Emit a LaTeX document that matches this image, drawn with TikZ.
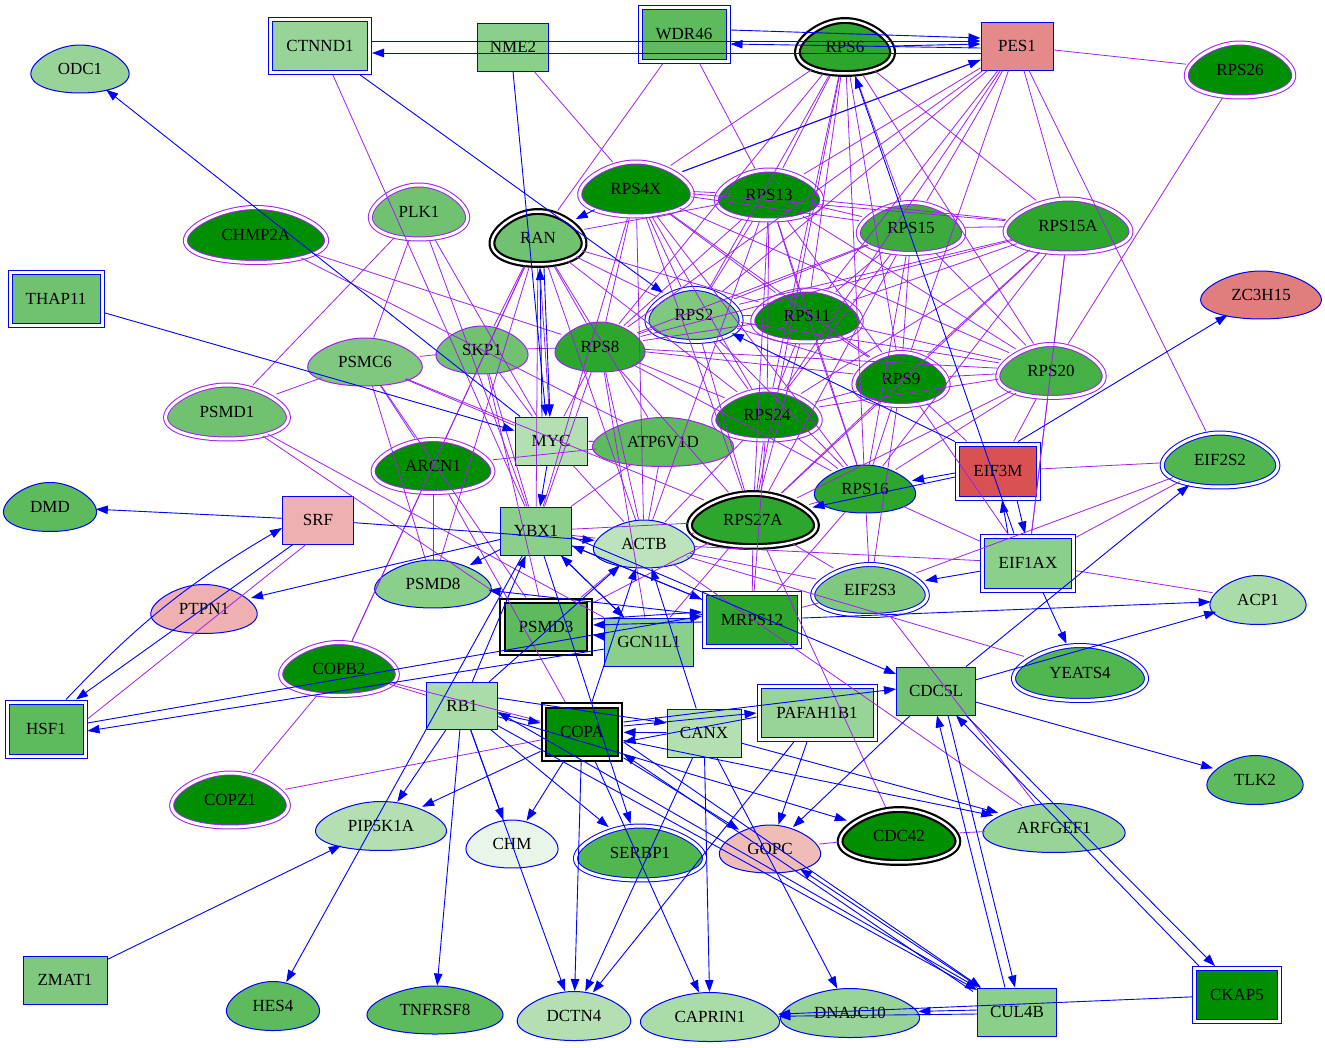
\documentclass[tikz,border=0pt]{standalone}
\usepackage{fontspec}
\setmainfont{Liberation Serif}
\usetikzlibrary{shapes.geometric,arrows.meta}
\definecolor{pur}{RGB}{160,32,240}
\definecolor{blu}{RGB}{0,0,255}
\definecolor{gA}{HTML}{008F00}
\definecolor{gB}{HTML}{2CA62C}
\definecolor{gC}{HTML}{3DAA3D}
\definecolor{gD}{HTML}{45B045}
\definecolor{gE}{HTML}{50B650}
\definecolor{gF}{HTML}{5DBB5D}
\definecolor{gG}{HTML}{70C270}
\definecolor{gH}{HTML}{80C880}
\definecolor{gI}{HTML}{8ACF8A}
\definecolor{gJ}{HTML}{98D498}
\definecolor{gK}{HTML}{A9DCA9}
\definecolor{gL}{HTML}{B3DFB3}
\definecolor{gM}{HTML}{BDE3BD}
\definecolor{gN}{HTML}{E8F5E8}
\definecolor{rA}{HTML}{E48A8A}
\definecolor{rB}{HTML}{E07E7E}
\definecolor{rC}{HTML}{D95252}
\definecolor{rD}{HTML}{EEB0B0}
\definecolor{rE}{HTML}{F0BCB8}
% egg-shaped node: name, x, y, w, h, style, fill, text
\newcommand\eggnode[8]{%
  \path[#6, fill=#7] plot[domain=0:360, samples=91] ({#2+0.5*#4*cos(\x)*(1+0.22*sin(\x))},{#3+0.5*#5*sin(\x)}) -- cycle;
  \node[#6, sz={#4}{#5}, draw=none, fill=none] (#1) at (#2,#3) {#8};}
\begin{document}
\begin{tikzpicture}[x=1pt,y=-1pt,
  nd/.style={inner sep=0pt, font=\fontsize{17}{17}\selectfont, text=black},
  sz/.style n args={2}{minimum width=#1pt, minimum height=#2pt},
  bx/.style={nd, rectangle, draw=blu, line width=1pt},
  dbx/.style={nd, rectangle, draw=blu, line width=1pt, double=white, double distance=3pt, outer sep=2.5pt},
  kbx/.style={nd, rectangle, draw=black, line width=2.2pt, double=white, double distance=2.5pt, outer sep=3.5pt},
  el/.style={nd, ellipse, draw=blu, line width=1pt},
  pel/.style={nd, ellipse, draw=pur, line width=1pt},
  dpel/.style={nd, ellipse, draw=pur, line width=1pt, double=white, double distance=3pt, outer sep=2.5pt},
  dbel/.style={nd, ellipse, draw=blu, line width=1pt, double=white, double distance=3pt, outer sep=2.5pt},
  kel/.style={nd, ellipse, draw=black, line width=2.2pt, double=white, double distance=2.5pt, outer sep=3.5pt},
  be/.style={draw=blu, line width=0.9pt, -{Triangle[length=12pt,width=8.5pt]}},
  pe/.style={draw=pur, line width=0.8pt}
]
\useasboundingbox[fill=white] (0,0) rectangle (1325,1047);
% boxes
\node[dbx, sz={99}{53}, fill=gJ] (ctnnd1) at (320,46) {CTNND1};
\node[bx, sz={71}{48}, fill=gI] (nme2) at (513,47) {NME2};
\node[dbx, sz={88}{54}, fill=gF] (wdr46) at (684,34) {WDR46};
\node[bx, sz={72}{48}, fill=rA] (pes1) at (1017,46) {PES1};
\node[dbx, sz={92}{53}, fill=gG] (thap11) at (56,299) {THAP11};
\node[bx, sz={72}{48}, fill=gL] (myc) at (551,441) {MYC};
\node[bx, sz={71}{48}, fill=rD] (srf) at (318,520) {SRF};
\node[bx, sz={71}{48}, fill=gI] (ybx1) at (536,531) {YBX1};
\node[kbx, sz={87}{52}, fill=gF] (psmd3) at (546,627) {PSMD3};
\node[bx, sz={89}{48}, fill=gI] (gcn1l1) at (649,642) {GCN1L1};
\node[dbx, sz={95}{53}, fill=gB] (mrps12) at (752,620) {MRPS12};
\node[dbx, sz={81}{54}, fill=rC] (eif3m) at (998,471) {EIF3M};
\node[dbx, sz={91}{54}, fill=gI] (eif1ax) at (1028,563) {EIF1AX};
\node[bx, sz={79}{48}, fill=gG] (cdc5l) at (936,691) {CDC5L};
\node[dbx, sz={78}{54}, fill=gF] (hsf1) at (46,729) {HSF1};
\node[bx, sz={71}{47}, fill=gK] (rb1) at (462,706) {RB1};
\node[kbx, sz={76}{53}, fill=gA] (copa) at (582,732) {COPA};
\node[bx, sz={74}{48}, fill=gL] (canx) at (704,733) {CANX};
\node[dbx, sz={116}{53}, fill=gJ] (pafah1b1) at (817,713) {PAFAH1B1};
\node[bx, sz={84}{48}, fill=gH] (zmat1) at (65,980) {ZMAT1};
\node[bx, sz={79}{48}, fill=gI] (cul4b) at (1017,1012) {CUL4B};
\node[dbx, sz={85}{53}, fill=gA] (ckap5) at (1237,995) {CKAP5};
% egg-shaped nodes
\eggnode{odc1}{80}{69}{96}{48}{el}{gJ}{ODC1}
\eggnode{rps6}{845}{47}{93}{53}{kel}{gB}{RPS6}
\eggnode{rps26}{1240}{70}{105}{54}{dpel}{gA}{RPS26}
\eggnode{rps4x}{636}{189}{110}{54}{dpel}{gA}{RPS4X}
\eggnode{rps13}{769}{195}{103}{50}{dpel}{gA}{RPS13}
\eggnode{plk1}{419}{212}{95}{54}{dpel}{gG}{PLK1}
\eggnode{chmp2a}{256}{235}{138}{55}{dpel}{gA}{CHMP2A}
\eggnode{ran}{538}{238}{90}{53}{kel}{gG}{RAN}
\eggnode{rps15}{911}{228}{103}{51}{dpel}{gC}{RPS15}
\eggnode{rps15a}{1068}{226}{123}{54}{dpel}{gB}{RPS15A}
\eggnode{zc3h15}{1261}{295}{118}{48}{el}{rB}{ZC3H15}
\eggnode{rps2}{694}{315}{92}{53}{dbel}{gH}{RPS2}
\eggnode{rps11}{807}{316}{106}{52}{dpel}{gA}{RPS11}
\eggnode{skp1}{482}{350}{90}{48}{pel}{gG}{SKP1}
\eggnode{rps8}{600}{347}{88}{50}{pel}{gB}{RPS8}
\eggnode{psmc6}{365}{362}{112}{48}{pel}{gH}{PSMC6}
\eggnode{rps9}{901}{379}{92}{53}{dpel}{gA}{RPS9}
\eggnode{rps20}{1051}{371}{104}{53}{dpel}{gD}{RPS20}
\eggnode{psmd1}{227}{412}{120}{54}{dpel}{gG}{PSMD1}
\eggnode{rps24}{767}{415}{104}{50}{dpel}{gA}{RPS24}
\eggnode{atp6v1d}{663}{442}{138}{49}{pel}{gF}{ATP6V1D}
\eggnode{arcn1}{433}{466}{117}{53}{dpel}{gA}{ARCN1}
\eggnode{eif2s2}{1220}{460}{113}{54}{dbel}{gE}{EIF2S2}
\eggnode{dmd}{50}{507}{91}{49}{el}{gF}{DMD}
\eggnode{rps16}{865}{489}{99}{48}{el}{gB}{RPS16}
\eggnode{rps27a}{753}{520}{124}{53}{kel}{gB}{RPS27A}
\eggnode{actb}{644}{544}{99}{48}{el}{gM}{ACTB}
\eggnode{psmd8}{433}{584}{114}{48}{el}{gI}{PSMD8}
\eggnode{ptpn1}{204}{609}{104}{49}{el}{rD}{PTPN1}
\eggnode{eif2s3}{870}{590}{112}{51}{dbel}{gH}{EIF2S3}
\eggnode{acp1}{1258}{600}{94}{49}{el}{gK}{ACP1}
\eggnode{copb2}{339}{669}{114}{53}{dpel}{gA}{COPB2}
\eggnode{yeats4}{1080}{673}{130}{55}{dbel}{gE}{YEATS4}
\eggnode{tlk2}{1255}{780}{94}{49}{el}{gF}{TLK2}
\eggnode{copz1}{230}{800}{114}{54}{dpel}{gA}{COPZ1}
\eggnode{pip5k1a}{381}{826}{128}{49}{el}{gL}{PIP5K1A}
\eggnode{chm}{512}{844}{90}{48}{el}{gN}{CHM}
\eggnode{serbp1}{640}{853}{126}{54}{dbel}{gE}{SERBP1}
\eggnode{gopc}{770}{849}{99}{48}{el}{rE}{GOPC}
\eggnode{cdc42}{899}{836}{115}{53}{kel}{gA}{CDC42}
\eggnode{arfgef1}{1054}{828}{139}{49}{el}{gJ}{ARFGEF1}
\eggnode{hes4}{273}{1006}{91}{49}{el}{gF}{HES4}
\eggnode{tnfrsf8}{435}{1010}{133}{48}{el}{gF}{TNFRSF8}
\eggnode{dctn4}{574}{1016}{111}{49}{el}{gL}{DCTN4}
\eggnode{caprin1}{710}{1017}{136}{49}{el}{gK}{CAPRIN1}
\eggnode{dnajc10}{850}{1013}{136}{49}{el}{gJ}{DNAJC10}
% purple edges
\foreach \a/\b in {pes1/rps26,pes1/rps4x,pes1/rps13,pes1/rps15,pes1/rps15a,pes1/rps11,pes1/rps2,pes1/rps8,pes1/rps24,pes1/rps9,pes1/eif2s2,
 rps6/rps4x,rps6/rps13,rps6/rps15,rps6/rps2,rps6/rps11,rps6/rps8,rps6/rps24,rps6/rps27a,rps6/rps16,rps6/rps9,rps6/rps20,rps6/rps15a,
 wdr46/ran,wdr46/rps13,nme2/rps4x,ctnnd1/ybx1,rps26/rps20,
 rps4x/rps13,rps4x/rps15,rps4x/rps15a,rps4x/rps8,rps4x/rps2,rps4x/rps11,rps4x/rps24,rps4x/rps16,rps4x/rps27a,rps4x/actb,rps4x/ybx1,rps4x/rps9,rps4x/rps20,
 rps13/rps15,rps13/rps15a,rps13/rps2,rps13/rps11,rps13/rps8,rps13/rps24,rps13/rps27a,rps13/rps16,rps13/rps9,rps13/rps20,rps13/ran,rps13/actb,
 rps15/rps15a,rps15/rps2,rps15/rps11,rps15/rps8,rps15/rps24,rps15/rps27a,rps15/rps16,rps15/rps20,rps15/rps9,
 rps15a/rps2,rps15a/rps11,rps15a/rps8,rps15a/rps24,rps15a/rps27a,rps15a/rps16,rps15a/rps9,rps15a/eif1ax,rps15a/rps20,
 rps2/rps11,rps2/rps8,rps2/ran,rps2/rps24,rps2/rps27a,rps2/rps16,rps2/rps9,rps2/rps20,
 rps11/rps8,rps11/rps24,rps11/rps27a,rps11/rps16,rps11/rps9,rps11/rps20,rps11/ran,
 rps8/ran,rps8/rps24,rps8/rps27a,rps8/rps16,rps8/rps9,rps8/rps20,rps8/actb,rps8/myc,rps8/skp1,rps8/ybx1,rps8/gcn1l1,
 rps9/rps24,rps9/rps27a,rps9/rps20,rps9/rps16,rps9/eif3m,
 rps20/rps24,rps20/rps27a,rps20/rps16,rps20/eif1ax,rps20/eif3m,
 rps24/rps27a,rps24/rps16,rps24/actb,rps24/mrps12,rps16/rps27a,
 rps27a/actb,rps27a/mrps12,rps27a/ybx1,rps27a/cdc42,rps27a/eif2s3,rps27a/psmd3,rps27a/gcn1l1,
 ran/skp1,ran/myc,ran/ybx1,ran/actb,ran/arcn1,ran/copb2,ran/rps24,ran/atp6v1d,ran/psmd8,
 actb/myc,actb/ybx1,actb/atp6v1d,actb/yeats4,actb/eif1ax,actb/eif2s3,actb/arfgef1,actb/psmd3,
 atp6v1d/myc,atp6v1d/ybx1,atp6v1d/arcn1,atp6v1d/chmp2a,
 myc/skp1,myc/psmc6,myc/plk1,plk1/psmd1,plk1/psmc6,plk1/ybx1,
 psmc6/psmd1,psmc6/skp1,psmc6/arcn1,psmc6/psmd8,psmc6/psmd3,psmc6/rps27a,
 psmd1/psmd3,psmd1/gcn1l1,skp1/ybx1,skp1/psmd3,
 arcn1/copb2,arcn1/copa,arcn1/psmd8,copb2/copz1,copb2/copa,copb2/rb1,copz1/copa,
 chmp2a/rps8,eif2s2/eif3m,eif2s2/eif2s3,eif2s2/eif1ax,eif1ax/acp1,eif1ax/rps16,eif1ax/rps9,
 eif2s3/rps16,eif2s3/mrps12,eif2s3/rps9,cdc42/gopc,cdc42/arfgef1,arfgef1/eif2s3,mrps12/rps16}
 \draw[pe] (\a) -- (\b);
\draw[pe] ([xshift=-12]srf.south) -- ([yshift=10]hsf1.east);
% blue edges
\draw[be] ([yshift=5]ctnnd1.east) -- ([yshift=5]pes1.west);
\draw[be] ([yshift=-7]pes1.west) -- ([yshift=-7]ctnnd1.east);
\draw[be] ([yshift=4]wdr46.east) -- ([yshift=8]pes1.west);
\draw[be] ([yshift=-2]pes1.west) -- ([yshift=-10]wdr46.east);
\draw[be] (rps6) -- ([yshift=2]pes1.west);
\draw[be] (rps4x) -- ([yshift=-14]pes1.west);
\draw[be] (nme2.south) -- ([xshift=-5]myc.north);
\draw[be] ([xshift=-9]myc.north) -- ([xshift=2]ran.south);
\draw[be] ([xshift=6]ran.south) -- ([xshift=-1]myc.north);
\draw[be] (ctnnd1) -- (rps2);
\draw[be] (rps4x) -- (ran);
\draw[be] ([xshift=-14]eif1ax.north) -- (rps6);
\draw[be] ([xshift=20]eif3m.north) -- (zc3h15);
\draw[be] ([xshift=-20]eif1ax.north) -- ([xshift=4]eif3m.south);
\draw[be] ([xshift=19]eif3m.south) -- ([xshift=-3]eif1ax.north);
\draw[be] ([yshift=-2]eif3m.west) -- (rps16);
\draw[be] ([yshift=-6]eif3m.west) -- (rps27a);
\draw[be] (eif3m.north west) -- (rps2);
\draw[be] (eif1ax) -- (eif2s3);
\draw[be] ([xshift=15]eif1ax.south) -- (yeats4);
\draw[be] (cdc5l) -- (eif2s2);
\draw[be] (cdc5l) -- (acp1);
\draw[be] (mrps12) -- (acp1);
\draw[be] (cdc5l) -- (tlk2);
\draw[be] ([xshift=-12]cul4b.north) -- ([xshift=1]cdc5l.south);
\draw[be] ([xshift=12]cdc5l.south) -- ([xshift=-2]cul4b.north);
\draw[be] ([xshift=-38]ckap5.north) -- ([xshift=20]cdc5l.south);
\draw[be] ([xshift=30]cdc5l.south) -- ([xshift=-22]ckap5.north);
\draw[be] (cdc5l) -- (gopc);
\draw[be] (pafah1b1) -- (gopc);
\draw[be] (pafah1b1) -- (dctn4);
\draw[be] ([yshift=6]copa.east) -- (pafah1b1.west);
\draw[be] ([yshift=10]copa.east) -- ([yshift=2]cdc5l.west);
\draw[be] (ybx1) -- (mrps12);
\draw[be] ([yshift=-6]ybx1.east) -- (cdc5l);
\draw[be] (srf) -- (dmd);
\draw[be] (ybx1) -- (ptpn1);
\draw[be] (srf) -- (actb);
\draw[be] ([xshift=20]hsf1.north) to[bend left=8] ([yshift=-8]srf.west);
\draw[be] ([xshift=-25]srf.south) -- ([xshift=30]hsf1.north);
\draw[be] ([yshift=6]hsf1.east) -- ([yshift=4]mrps12.west);
\draw[be] (gcn1l1) -- ([yshift=-2]hsf1.east);
\draw[be] (thap11) -- (myc);
\draw[be] (myc) -- (odc1);
\draw[be] (myc) -- (ybx1);
\draw[be] (rb1) -- (ybx1);
\draw[be] (gcn1l1) -- (ybx1);
\draw[be] (mrps12) -- (ybx1);
\draw[be] (ybx1) -- (psmd8);
\draw[be] (mrps12) -- (psmd8);
\draw[be] ([yshift=8]psmd3.east) -- ([yshift=8]mrps12.west);
\draw[be] ([yshift=-2]mrps12.west) -- ([yshift=2]psmd3.east);
\draw[be] (gcn1l1) -- ([yshift=-8]psmd3.east);
\draw[be] (rb1) -- (actb);
\draw[be] (copa) -- (actb);
\draw[be] (canx) -- (actb);
\draw[be] (ybx1) -- (gcn1l1);
\draw[be] (rb1) -- (pip5k1a);
\draw[be] (copa) -- (pip5k1a);
\draw[be] (ybx1) -- (hes4);
\draw[be] (zmat1) -- (pip5k1a);
\draw[be] (rb1) -- (tnfrsf8);
\draw[be] (rb1) -- (chm);
\draw[be] (copa) -- (chm);
\draw[be] (rb1) -- (dctn4);
\draw[be] (copa) -- (dctn4);
\draw[be] (canx) -- (dctn4);
\draw[be] (rb1) -- (serbp1);
\draw[be] (ybx1) -- (serbp1);
\draw[be] (rb1) -- (copa);
\draw[be] ([yshift=8]rb1.east) -- ([yshift=10]canx.west);
\draw[be] (canx) -- (copa);
\draw[be] ([yshift=-4]pafah1b1.west) -- ([yshift=-10]copa.east);
\draw[be] (rb1) -- (cdc42);
\draw[be] ([yshift=-10]copa.east) -- ([xshift=4]cul4b.north west);
\draw[be] ([xshift=-4,yshift=-4]cul4b.north west) -- ([yshift=-22]copa.east);
\draw[be] (rb1) -- (cul4b);
\draw[be] (cul4b.north west) -- ([yshift=-6]rb1.east);
\draw[be] (cul4b) -- (gopc);
\draw[be] ([yshift=-2]cul4b.west) -- (caprin1);
\draw[be] ([yshift=2]cul4b.west) -- (dnajc10);
\draw[be] (ckap5) -- (caprin1);
\draw[be] (canx) -- (caprin1);
\draw[be] (copa) -- (caprin1);
\draw[be] (canx) -- (dnajc10);
\draw[be] (canx) -- (arfgef1);
\draw[be] (copa) -- (arfgef1);
\draw[be] (copa) -- (gopc);
\end{tikzpicture}
\end{document}
